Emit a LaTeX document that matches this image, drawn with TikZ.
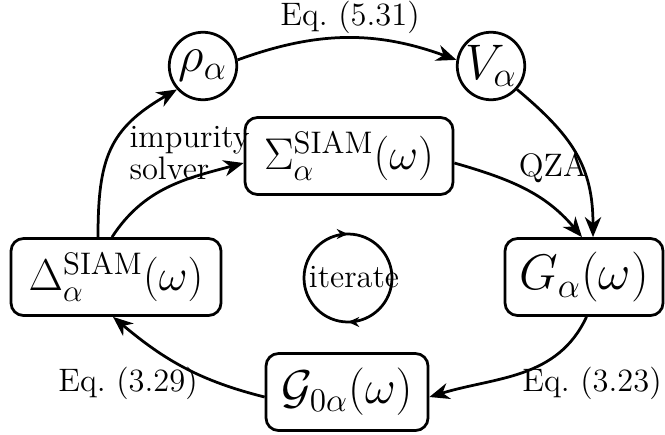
\RequirePackage{fix-cm}
\documentclass[tikz,border=0pt]{standalone}
\usepackage{fontspec}
\usetikzlibrary{arrows.meta,decorations.markings}
\begin{document}
\begin{tikzpicture}[x=0.4pt,y=0.4pt,
  box/.style={draw, line width=1.1pt, rounded corners=5pt, minimum height=30.8pt, inner sep=0pt, font=\fontsize{17.8}{22}\selectfont},
  bigbox/.style={box, font=\fontsize{20}{24}\selectfont},
  circ/.style={draw, line width=1.1pt, circle, minimum size=27pt, inner sep=0pt, font=\fontsize{20}{24}\selectfont},
  lbl/.style={font=\fontsize{13}{15}\selectfont, inner sep=0pt},
  conn/.style={line width=1.1pt, -{Stealth[length=8pt,width=6.5pt,inset=2.5pt]}},
  itercirc/.style={line width=1.1pt, postaction={decorate}, decoration={markings,
     mark=at position 0.25 with {\arrowreversed{Stealth[length=4.5pt,width=4pt]}},
     mark=at position 0.75 with {\arrowreversed{Stealth[length=4.5pt,width=4pt]}}}},
]
\useasboundingbox (0,0) rectangle (665,434);
\node[circ] (rho) at (203,368) {$\rho_\alpha$};
\node[circ] (V) at (491,368) {$V_\alpha$};
\node[box, minimum width=83.2pt] (Sigma) at (349,278) {$\Sigma^{\mathrm{SIAM}}_\alpha(\omega)$};
\node[box, minimum width=84pt] (Delta) at (116,157) {$\Delta^{\mathrm{SIAM}}_\alpha(\omega)$};
\node[bigbox, minimum width=63.2pt] (G) at (584,157) {$G_\alpha(\omega)$};
\node[bigbox, minimum width=64.8pt, font=\fontsize{19}{23}\selectfont] (G0) at (347,42) {$\mathcal{G}_{0\alpha}(\omega)$};
\coordinate (itc) at (348,156);
\node[lbl] (iter) at (354,157) {iterate};
\draw[itercirc] (itc) circle[radius=44];
\node[lbl] (eq531) at (350,417) {Eq.\ (5.31)};
\node[lbl, align=left, anchor=west, font={\fontsize{13}{10.2}\selectfont}] (imp) at (129,281) {impurity\\solver};
\node[lbl] (qza) at (553,266) {QZA};
\node[lbl] (eq329) at (128,51) {Eq.\ (3.29)};
\node[lbl] (eq323) at (592,51) {Eq.\ (3.23)};
\draw[conn] (rho.10) to[out=20,in=160] (V.170);
\draw[conn] ([xshift=-7.2pt]Delta.north) to[out=90,in=210,looseness=1.2] (rho.222);
\draw[conn] ([xshift=-1.6pt]Delta.north) to[out=57,in=195] ([yshift=-2.8pt]Sigma.west);
\draw[conn] ([yshift=-2.8pt]Sigma.east) to[out=-16,in=130] ([xshift=-0.8pt]G.north);
\draw[conn] (V.-42) to[out=-40,in=90,looseness=1.1] ([xshift=3.6pt]G.north);
\draw[conn] ([xshift=1pt]G.south) to[out=-115,in=17] ([yshift=-2pt]G0.east);
\draw[conn] ([yshift=-2pt]G0.west) to[out=166,in=-40] ([xshift=-1.2pt]Delta.south);
\end{tikzpicture}
\end{document}
